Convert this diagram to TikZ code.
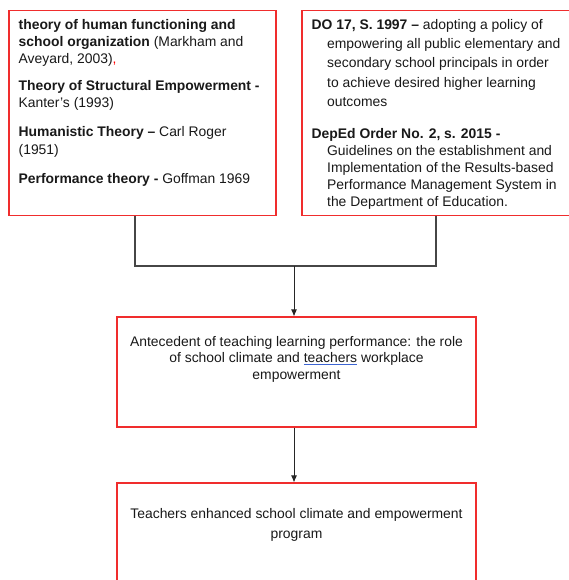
\documentclass[tikz,border=0pt]{standalone}
\usepackage{fontspec}
\setmainfont{Liberation Sans}
\usetikzlibrary{arrows.meta}
\definecolor{boxred}{RGB}{240,45,45}
\definecolor{linegray}{RGB}{70,70,70}
\definecolor{spellblue}{RGB}{60,100,210}
\tikzset{
  box/.style={draw=boxred, line width=1.1pt, inner sep=0pt},
  txt/.style={inner sep=0pt, text=black!90},
  link/.style={draw=linegray, line width=1.3pt},
  arr/.style={draw=black!85, line width=0.9pt, -{Latex[length=7pt,width=6pt]}}
}
\begin{document}
\begin{tikzpicture}[x=1pt,y=-1pt]
\useasboundingbox (0,0) rectangle (569,580);
\clip (0,0) rectangle (569,580);
\fill[white] (0,0) rectangle (569,580);
% boxes
\node[box, minimum width=267pt, minimum height=205pt] (theory) at (142.5,112.75) {};
\node[box, minimum width=270pt, minimum height=205pt] (policy) at (437,112.75) {};
\node[box, minimum width=359pt, minimum height=110pt] (study) at (296.5,372) {};
\node[box, minimum width=359pt, minimum height=120pt] (program) at (296.5,543) {};
% texts
\node[txt, anchor=north west, align=left, font=\fontsize{13.9}{17.2}\selectfont] (theorytext) at ([xshift=10pt,yshift=-9.5pt]theory.north west)
{\textbf{theory of human functioning and}\\
\textbf{school organization} (Markham and\\
Aveyard, 2003){\color{red},}\\[9pt]
\textbf{Theory of Structural Empowerment -}\\
Kanter's (1993)\\[12.5pt]
\textbf{Humanistic Theory --} Carl Roger\\
(1951)\\[12.5pt]
\textbf{Performance theory -} Goffman 1969};
\node[txt, anchor=north west, align=left, font=\fontsize{13.9}{17}\selectfont] (policytext) at ([xshift=10pt,yshift=-9.5pt]policy.north west)
{\textbf{DO 17, S. 1997 --} adopting a policy of\\[2.2pt]
\hspace*{15.5pt}empowering all public elementary and\\[2.2pt]
\hspace*{15.5pt}secondary school principals in order\\[2.2pt]
\hspace*{15.5pt}to achieve desired higher learning\\[2.2pt]
\hspace*{15.5pt}outcomes\\[15pt]
\textbf{DepEd Order No. 2, s. 2015 -}\\
\hspace*{15.5pt}Guidelines on the establishment and\\
\hspace*{15.5pt}Implementation of the Results-based\\
\hspace*{15.5pt}Performance Management System in\\
\hspace*{15.5pt}the Department of Education.};
\node[txt, anchor=north, align=center, font=\fontsize{13.9}{16.5}\selectfont] (studytext) at ([yshift=-19.5pt]study.north)
{Antecedent of teaching learning performance: the role\\
of school climate and {\color{spellblue}\underline{\color{black!90}teachers}} workplace\\
empowerment};
\node[txt, anchor=north, align=center, font=\fontsize{13.9}{20.7}\selectfont] (programtext) at ([yshift=-25.5pt]program.north)
{Teachers enhanced school climate and empowerment\\
program};
% connectors
\coordinate (join) at (294,266);
\path[link] ([xshift=-7.5pt]theory.south) |- (join) -| ([xshift=-1pt]policy.south);
\path[arr] (join) -- (join |- study.north);
\path[arr] (study.south -| join) -- (join |- program.north);
\end{tikzpicture}
\end{document}
